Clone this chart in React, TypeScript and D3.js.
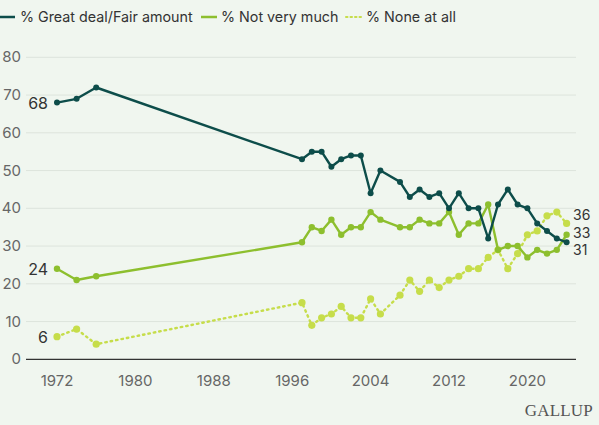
import React from "react";
import * as d3 from "d3";

const years = [1972, 1974, 1976, 1997, 1998, 1999, 2000, 2001, 2002, 2003, 2004, 2005, 2007, 2008, 2009, 2010, 2011, 2012, 2013, 2014, 2015, 2016, 2017, 2018, 2019, 2020, 2021, 2022, 2023, 2024];
const greatDeal = [68, 69, 72, 53, 55, 55, 51, 53, 54, 54, 44, 50, 47, 43, 45, 43, 44, 40, 44, 40, 40, 32, 41, 45, 41, 40, 36, 34, 32, 31];
const notVeryMuch = [24, 21, 22, 31, 35, 34, 37, 33, 35, 35, 39, 37, 35, 35, 37, 36, 36, 39, 33, 36, 36, 41, 29, 30, 30, 27, 29, 28, 29, 33];
const noneAtAll = [6, 8, 4, 15, 9, 11, 12, 14, 11, 11, 16, 12, 17, 21, 18, 21, 19, 21, 22, 24, 24, 27, 29, 24, 28, 33, 34, 38, 39, 36];
const yTicks = [0, 10, 20, 30, 40, 50, 60, 70, 80];
const xTicks = [1972, 1980, 1988, 1996, 2004, 2012, 2020];
const seriesNames = ["% Great deal/Fair amount", "% Not very much", "% None at all"];

const W = 599, H = 425;
const FONT = "Inter, 'Noto Sans', sans-serif";

export default function App() {
  const x = d3.scaleLinear().domain([1972, 2024]).range([57, 566.6]);
  const y = d3.scaleLinear().domain([0, 80]).range([359.3, 57.3]);
  const line = d3.line<[number, number]>().x(d => x(d[0])).y(d => y(d[1]));
  const mk = (vals: number[]) => years.map((yr, i) => [yr, vals[i]] as [number, number]);

  const series = [
    { name: seriesNames[0], data: mk(greatDeal), color: "#0d4d4a", dash: null as string | null, r: 3, w: 2.4 },
    { name: seriesNames[1], data: mk(notVeryMuch), color: "#8dbf2e", dash: null, r: 3.2, w: 2.4 },
    { name: seriesNames[2], data: mk(noneAtAll), color: "#c6dd4a", dash: "1.5,4", r: 3.6, w: 2.4 },
  ];

  const last = years.length - 1;

  return (
    <div style={{ position: "fixed", left: 0, top: 0, width: W, height: H, background: "#f0f6ef" }}>
      <svg width={W} height={H} style={{ display: "block", fontFamily: FONT }}>
        {/* legend */}
        <g>
          <line x1={0} x2={15} y1={17} y2={17} stroke="#0d4d4a" strokeWidth={2.5} />
          <text x={20} y={22} fontSize={14.3} fill="#333">{seriesNames[0]}</text>
          <line x1={201} x2={217} y1={17} y2={17} stroke="#8dbf2e" strokeWidth={2.5} />
          <text x={221} y={22} fontSize={14.3} fill="#333">{seriesNames[1]}</text>
          <line x1={346} x2={362} y1={17} y2={17} stroke="#c6dd4a" strokeWidth={2} strokeDasharray="1.5,3" strokeLinecap="round" />
          <text x={366} y={22} fontSize={14.3} fill="#333">{seriesNames[2]}</text>
        </g>
        {/* gridlines */}
        {yTicks.map(t => (
          <g key={t}>
            {t > 0 && <line x1={26} x2={576} y1={y(t)} y2={y(t)} stroke="#dde4dc" strokeWidth={1} />}
            <text x={21} y={y(t) + 5} textAnchor="end" fontSize={15} fill="#666">{t}</text>
          </g>
        ))}
        <line x1={26} x2={576} y1={y(0)} y2={y(0)} stroke="#333" strokeWidth={1.2} />
        {xTicks.map(t => (
          <text key={t} x={x(t)} y={386} textAnchor="middle" fontSize={15} fill="#666">{t}</text>
        ))}
        {/* series */}
        {[...series].reverse().map(s => (
          <g key={s.name}>
            <path d={line(s.data) || ""} fill="none" stroke={s.color} strokeWidth={s.w}
              strokeDasharray={s.dash || undefined} strokeLinecap="round" strokeLinejoin="round" />
            {s.data.map((d, i) => (
              <circle key={i} cx={x(d[0])} cy={y(d[1])} r={s.r} fill={s.color} />
            ))}
          </g>
        ))}
        {/* value labels */}
        {series.map(s => (
          <text key={"l" + s.name} x={x(years[0]) - 9} y={y(s.data[0][1]) + 6} textAnchor="end" fontSize={16} fill="#333">
            {s.data[0][1]}
          </text>
        ))}
        <text x={573} y={220} fontSize={14} fill="#333">{noneAtAll[last]}</text>
        <text x={573} y={237.5} fontSize={14} fill="#333">{notVeryMuch[last]}</text>
        <text x={573} y={255} fontSize={14} fill="#333">{greatDeal[last]}</text>
        <text x={593} y={416} textAnchor="end" fontSize={17} fill="#555" fontFamily="'Liberation Serif', 'DejaVu Serif', serif" letterSpacing={0.2}>GALLUP</text>
      </svg>
    </div>
  );
}
